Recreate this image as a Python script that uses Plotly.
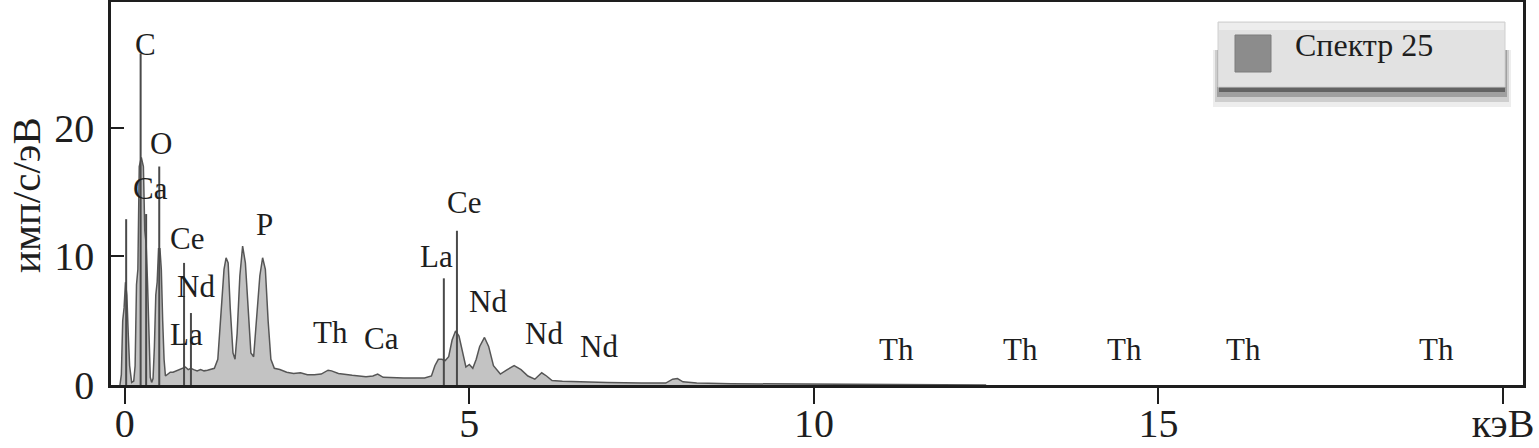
import plotly.graph_objects as go

# ---------------- data ----------------
energy_kev = [-0.07, -0.05, -0.03, -0.01, 0.01, 0.03, 0.05, 0.07, 0.10, 0.13,
              0.15, 0.17, 0.19, 0.21, 0.24, 0.27, 0.29, 0.31, 0.33, 0.35,
              0.37, 0.39, 0.41, 0.43, 0.45, 0.47, 0.49, 0.51, 0.53, 0.55,
              0.57, 0.59, 0.62, 0.66, 0.70, 0.75, 0.80, 0.84, 0.88, 0.92,
              0.96, 1.00, 1.05, 1.10, 1.15, 1.20, 1.25, 1.30, 1.35, 1.40,
              1.44, 1.47, 1.50, 1.53, 1.57, 1.60, 1.63, 1.67, 1.71, 1.75,
              1.79, 1.83, 1.87, 1.91, 1.96, 2.00, 2.04, 2.08, 2.12, 2.17,
              2.25, 2.35, 2.45, 2.55, 2.65, 2.75, 2.85, 2.95, 3.00, 3.10,
              3.20, 3.30, 3.40, 3.50, 3.60, 3.67, 3.75, 3.90, 4.05, 4.20,
              4.35, 4.45, 4.50, 4.55, 4.60, 4.65, 4.70, 4.75, 4.80, 4.85,
              4.90, 4.95, 5.00, 5.05, 5.10, 5.15, 5.22, 5.28, 5.35, 5.45,
              5.55, 5.65, 5.75, 5.85, 5.95, 6.05, 6.12, 6.20, 6.35, 6.60,
              7.00, 7.50, 7.85, 7.95, 8.02, 8.10, 8.30, 8.80, 9.50, 10.50,
              11.50, 12.50]
counts = [0.0, 0.8, 5.0, 6.0, 8.0, 7.0, 4.0, 1.5, 0.2, 0.3,
          1.5, 7.8, 9.0, 17.0, 17.7, 17.0, 12.0, 11.0, 8.0, 3.0,
          0.6, 0.2, 0.5, 3.0, 7.0, 8.0, 10.6, 10.6, 9.0, 5.0,
          2.0, 0.7, 0.8, 1.0, 1.0, 1.1, 1.2, 1.3, 1.4, 1.2,
          1.3, 1.2, 1.1, 1.2, 1.1, 1.15, 1.2, 1.3, 2.0, 6.0,
          9.0, 9.9, 9.5, 6.0, 2.5, 2.0, 4.0, 8.5, 10.8, 9.5,
          6.0, 2.5, 2.2, 5.0, 8.5, 9.9, 9.0, 5.0, 2.0, 1.3,
          1.2, 1.0, 0.9, 0.95, 0.8, 0.8, 0.85, 1.15, 1.1, 0.9,
          0.8, 0.75, 0.7, 0.65, 0.7, 0.85, 0.6, 0.55, 0.55, 0.55,
          0.55, 0.7, 1.5, 2.0, 2.0, 1.9, 2.2, 3.5, 4.2, 3.8,
          2.5, 1.4, 1.6, 1.3, 2.0, 3.0, 3.7, 3.0, 1.5, 0.85,
          1.2, 1.5, 1.2, 0.7, 0.45, 0.95, 0.7, 0.35, 0.3, 0.25,
          0.2, 0.15, 0.15, 0.45, 0.5, 0.25, 0.15, 0.1, 0.08, 0.05,
          0.03, 0.0]

spike_kev = [0.02, 0.23, 0.31, 0.50, 0.86, 0.96, 4.63, 4.82]
spike_counts = [12.9, 25.8, 13.3, 17.0, 9.5, 5.6, 8.3, 12.0]

label_text = ["C", "O", "Ca", "Ce", "Nd", "La", "P", "Th", "Ca", "La", "Ce",
              "Nd", "Nd", "Nd", "Th", "Th", "Th", "Th", "Th"]
label_kev = [0.30, 0.52, 0.38, 0.90, 1.04, 0.90, 2.03, 2.99, 3.73, 4.53, 4.92,
             5.27, 6.08, 6.88, 11.20, 13.00, 14.51, 16.24, 19.04]
label_counts = [26.5, 18.8, 15.3, 11.4, 7.7, 3.9, 12.45, 4.05, 3.65, 9.96, 14.2,
                6.5, 3.97, 2.96, 2.8, 2.8, 2.8, 2.8, 2.8]

x_tickvals = [0, 5, 10, 15, 20]
x_ticktext = ["0", "5", "10", "15", "кэВ"]
y_tickvals = [0, 10, 20]
y_title = "имп/с/эВ"
legend_name = "Спектр 25"

# ---------------- figure ----------------
W, H = 1539, 448
L, R, T, B = 111, 16, 2, 63
PW, PH = W - L - R, H - T - B
FONT = "Liberation Serif"
INK = "#1e1e1e"


def px(xp):
    return (xp - L) / PW


def py(yp):
    return (H - B - yp) / PH


fig = go.Figure()
fig.add_trace(go.Scatter(
    x=energy_kev, y=counts, mode="lines", fill="tozeroy",
    fillcolor="#c3c3c3", line=dict(color="#565656", width=1.5),
    hoverinfo="skip", showlegend=False))

sx, sy = [], []
for e, c in zip(spike_kev, spike_counts):
    sx += [e, e, None]
    sy += [0, c, None]
fig.add_trace(go.Scatter(x=sx, y=sy, mode="lines",
                         line=dict(color="#4a4a4a", width=2),
                         hoverinfo="skip", showlegend=False))

annotations = []
for t, e, c in zip(label_text, label_kev, label_counts):
    annotations.append(dict(x=e, y=c, xref="x", yref="y", text=t,
                            showarrow=False, xanchor="center", yanchor="middle",
                            font=dict(family=FONT, size=31, color=INK)))

annotations.append(dict(x=px(26), y=py(195), xref="paper", yref="paper",
                        text=y_title, textangle=-90, showarrow=False,
                        xanchor="center", yanchor="middle",
                        font=dict(family=FONT, size=41, color=INK)))

# legend box drawn by hand (soft shadow + box + swatch)
shapes = []
for (x0, x1, y1, op) in [(1213, 1511, 107, 0.07), (1215, 1509, 102, 0.13),
                         (1217, 1507, 97, 0.22), (1219, 1505, 92, 0.38)]:
    shapes.append(dict(type="rect", xref="paper", yref="paper",
                       x0=px(x0), x1=px(x1), y0=py(y1), y1=py(50),
                       fillcolor="black", opacity=op, line=dict(width=0), layer="above"))
shapes.append(dict(type="rect", xref="paper", yref="paper",
                   x0=px(1218), x1=px(1505), y0=py(87), y1=py(22),
                   fillcolor="#e2e2e2", line=dict(color="#d0d0d0", width=1), layer="above"))
shapes.append(dict(type="rect", xref="paper", yref="paper",
                   x0=px(1219), x1=px(1504), y0=py(30), y1=py(23),
                   fillcolor="#ededed", line=dict(width=0), layer="above"))
shapes.append(dict(type="rect", xref="paper", yref="paper",
                   x0=px(1235), x1=px(1271), y0=py(72), y1=py(35),
                   fillcolor="#8c8c8c", line=dict(color="#7c7c7c", width=1), layer="above"))
annotations.append(dict(x=px(1293), y=py(45), xref="paper", yref="paper",
                        text=legend_name, showarrow=False, xanchor="left",
                        yanchor="middle",
                        font=dict(family=FONT, size=32, color=INK)))

fig.update_layout(
    width=W, height=H, margin=dict(l=L, r=R, t=T, b=B, autoexpand=False),
    paper_bgcolor="white", plot_bgcolor="white", showlegend=False,
    annotations=annotations, shapes=shapes,
    xaxis=dict(range=[-0.2, 20.29], tickmode="array", tickvals=x_tickvals,
               ticktext=x_ticktext, ticks="outside", ticklen=16, tickwidth=2,
               tickcolor=INK, showline=True, linewidth=2.5, linecolor=INK,
               mirror=True, showgrid=False, zeroline=False, automargin=False,
               ticklabelstandoff=-15,
               tickfont=dict(family=FONT, size=40, color=INK)),
    yaxis=dict(range=[0, 29.8], tickmode="array", tickvals=y_tickvals,
               ticks="inside", ticklen=13, tickwidth=2, tickcolor=INK,
               showline=True, linewidth=2.5, linecolor=INK, mirror=True,
               showgrid=False, zeroline=False, ticklabelstandoff=6,
               automargin=False,
               tickfont=dict(family=FONT, size=40, color=INK)),
)

fig.write_html(
    "out.html",
    config={"displayModeBar": False},
    post_script="document.body.style.margin='0px';document.body.style.overflow='hidden';",
)
